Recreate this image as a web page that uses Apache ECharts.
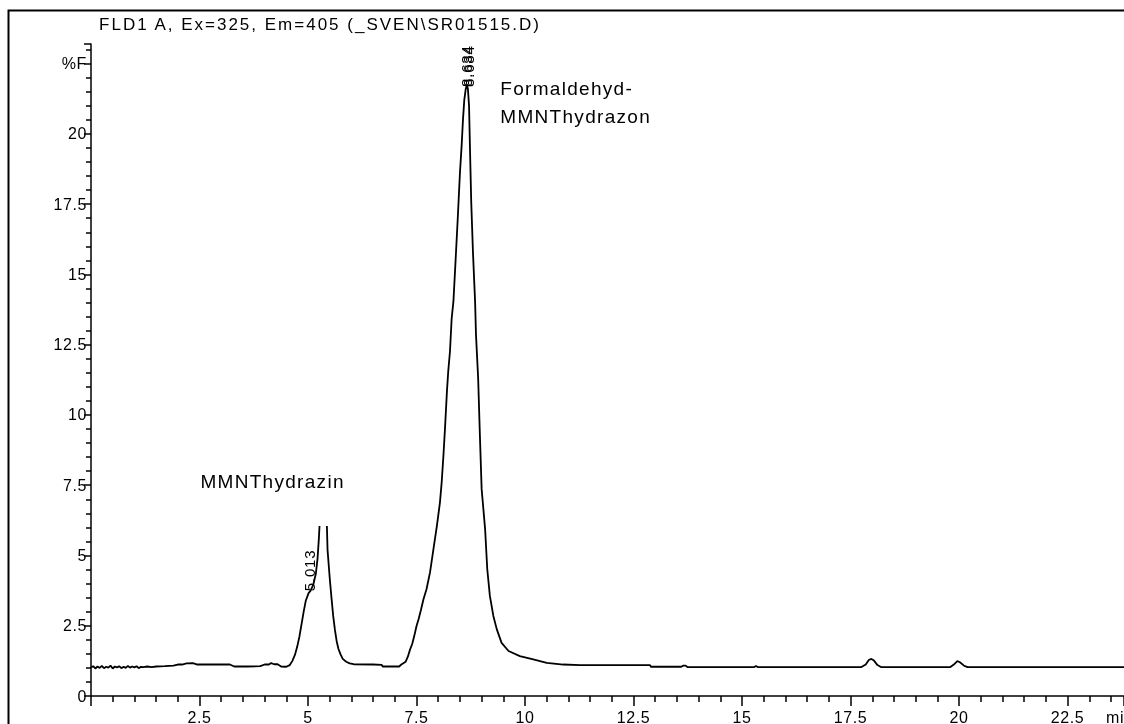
<!DOCTYPE html>
<html>
<head>
<meta charset="utf-8">
<style>
  html, body { margin: 0; padding: 0; background: #fff; }
  #chart { width: 1124px; height: 724px; }
  #chart svg { will-change: transform; }
  /* wide, plotter-like character spacing per text size */
  #chart text[style*="17px"] { letter-spacing: 2px; }
  #chart text[style*="16px"] { letter-spacing: 0.6px; }
  #chart text[style*="19px"] { letter-spacing: 1.3px; }
  #chart text[style*="15px"] { letter-spacing: 0.8px; }
</style>
<script src="https://cdn.jsdelivr.net/npm/echarts@6/dist/echarts.min.js"></script>
</head>
<body>
<div id="chart"></div>
<script>
// FLD signal trace: retention time (min) and response (%F)
const times = [
  0.00, 0.05, 0.10, 0.15, 0.20, 0.25, 0.30, 0.35, 0.40, 0.45, 0.50, 0.55, 0.60, 0.65, 0.70, 0.75,
  0.80, 0.85, 0.90, 0.95, 1.00, 1.05, 1.10, 1.15, 1.20, 1.30, 1.40, 1.50, 1.70, 1.90, 2.00, 2.10,
  2.20, 2.35, 2.45, 2.80, 3.20, 3.30, 3.60, 3.90, 4.00, 4.10, 4.15, 4.22, 4.30, 4.38, 4.50, 4.58,
  4.64, 4.70, 4.75, 4.80, 4.85, 4.90, 4.95, 5.013, 5.06, 5.12, 5.18, 5.22, 5.25, 5.265, 5.35, 5.435,
  5.45, 5.50, 5.54, 5.58, 5.62, 5.66, 5.70, 5.75, 5.80, 5.88, 5.96, 6.05, 6.50, 6.70, 6.72, 7.10,
  7.15, 7.25, 7.30, 7.35, 7.40, 7.45, 7.50, 7.55, 7.60, 7.66, 7.73, 7.81, 7.89, 7.97, 8.04, 8.08,
  8.12, 8.16, 8.20, 8.23, 8.27, 8.31, 8.35, 8.40, 8.45, 8.50, 8.54, 8.57, 8.60, 8.634, 8.66, 8.684,
  8.71, 8.73, 8.76, 8.80, 8.85, 8.87, 8.92, 8.96, 9.00, 9.08, 9.13, 9.19, 9.27, 9.35, 9.46, 9.62,
  9.88, 10.19, 10.50, 10.88, 11.27, 12.00, 12.88, 12.90, 13.60, 13.64, 13.70, 13.74, 15.28, 15.32, 15.36, 17.75,
  17.85, 17.92, 17.98, 18.04, 18.12, 18.20, 19.80, 19.88, 19.96, 20.02, 20.12, 20.20, 23.80
];
const signal = [
  1.02, 1.06, 0.98, 1.05, 1.00, 1.07, 0.99, 1.04, 1.01, 1.08, 0.98, 1.05, 1.02, 1.06, 0.99, 1.04,
  1.00, 1.07, 1.01, 1.05, 1.02, 1.06, 0.99, 1.04, 1.03, 1.05, 1.03, 1.05, 1.06, 1.08, 1.12, 1.12,
  1.16, 1.17, 1.12, 1.12, 1.12, 1.05, 1.05, 1.06, 1.12, 1.12, 1.17, 1.13, 1.13, 1.05, 1.04, 1.10,
  1.25, 1.47, 1.75, 2.10, 2.55, 3.00, 3.40, 3.66, 3.75, 3.95, 4.35, 4.90, 5.60, 6.05, null, 6.05,
  5.20, 4.20, 3.50, 2.85, 2.35, 1.95, 1.68, 1.48, 1.32, 1.22, 1.16, 1.13, 1.12, 1.11, 1.05, 1.05,
  1.12, 1.22, 1.40, 1.65, 1.85, 2.15, 2.49, 2.75, 3.05, 3.44, 3.80, 4.39, 5.23, 6.06, 6.89, 7.61,
  8.56, 9.63, 10.82, 11.54, 12.25, 13.44, 14.04, 15.50, 17.00, 18.60, 19.60, 20.50, 21.20, 21.60, 21.75, 21.60,
  21.00, 19.60, 17.60, 15.80, 14.00, 12.86, 11.30, 9.27, 7.37, 5.94, 4.51, 3.56, 2.85, 2.37, 1.89, 1.60,
  1.42, 1.30, 1.18, 1.12, 1.10, 1.10, 1.10, 1.04, 1.04, 1.08, 1.08, 1.03, 1.03, 1.07, 1.03, 1.03,
  1.12, 1.28, 1.32, 1.26, 1.10, 1.03, 1.03, 1.12, 1.24, 1.20, 1.07, 1.03, 1.03
];

// Integrated peak retention times and the response at each apex
const peakTimes = [5.013, 8.634, 8.684];
const peakHeights = [3.66, 21.60, 21.60];

// Compound names: text lines and anchor (time, response)
const compoundNames = [
  { lines: ['MMNThydrazin'], at: [2.52, 7.62] },
  { lines: ['Formaldehyd-', 'MMNThydrazon'], at: [9.43, 21.62] }
];

const titleText = 'FLD1 A, Ex=325, Em=405 (_SVEN\\SR01515.D)';
const yUnit = '%F';
const xUnit = 'min';

const FONT = '"Liberation Sans", Arial, sans-serif';
const chart = echarts.init(document.getElementById('chart'), null, { renderer: 'svg' });

const trace = times.map((t, i) => [t, signal[i]]);

chart.setOption({
  animation: false,
  backgroundColor: '#ffffff',
  grid: { left: 91, right: 0, top: 44, bottom: 28, containLabel: false, outerBoundsMode: 'none' },
  xAxis: {
    type: 'value', min: 0, max: 23.8, interval: 2.5,
    axisLine: { show: true, onZero: false, lineStyle: { color: '#000', width: 1.5 } },
    axisTick: { show: true, inside: false, length: 10, lineStyle: { color: '#000', width: 1.5 } },
    minorTick: { show: true, splitNumber: 5, length: 6, lineStyle: { color: '#000', width: 1.5 } },
    splitLine: { show: false },
    axisLabel: {
      color: '#000', fontFamily: FONT, fontSize: 16, margin: 13,
      showMinLabel: false, showMaxLabel: false,
      formatter: v => (v === 0 ? '' : String(v))
    }
  },
  yAxis: {
    type: 'value', min: 0, max: 23.2, interval: 2.5,
    axisLine: { show: true, onZero: false, lineStyle: { color: '#000', width: 1.5 } },
    axisTick: { show: true, inside: false, length: 7, lineStyle: { color: '#000', width: 1.5 } },
    minorTick: { show: true, splitNumber: 5, length: 5, lineStyle: { color: '#000', width: 1.5 } },
    splitLine: { show: false },
    axisLabel: {
      color: '#000', fontFamily: FONT, fontSize: 16, margin: 4,
      showMaxLabel: false,
      formatter: v => (v === 22.5 ? yUnit : String(v))
    }
  },
  series: [{
    type: 'line',
    data: trace,
    showSymbol: false,
    connectNulls: false,
    lineStyle: { color: '#000', width: 1.8 },
    clip: true
  }]
});

function buildGraphics() {
  const g = [];
  // page frame
  g.push({
    type: 'rect', left: 6, top: 8, silent: true,
    shape: { x: 0, y: 0, width: 1200, height: 800 },
    style: { fill: 'none', stroke: '#000', lineWidth: 2 }
  });
  // signal description
  g.push({
    type: 'text', x: 320, y: 24, silent: true,
    style: { text: titleText, fontFamily: FONT, fontSize: 17, fill: '#000', textAlign: 'center', textVerticalAlign: 'middle' }
  });
  // time unit at the end of the time axis
  const xEnd = chart.convertToPixel({ gridIndex: 0 }, [0, 0]);
  g.push({
    type: 'text', x: 1106, y: xEnd[1] + 13, silent: true,
    style: { text: xUnit, fontFamily: FONT, fontSize: 16, fill: '#000', textAlign: 'left', textVerticalAlign: 'top' }
  });
  // retention time labels, rotated and starting just above each apex
  peakTimes.forEach((t, i) => {
    const p = chart.convertToPixel({ gridIndex: 0 }, [t, peakHeights[i]]);
    g.push({
      type: 'text', x: p[0] + 1, y: p[1] - 2, rotation: Math.PI / 2, silent: true,
      style: { text: t.toFixed(3), fontFamily: FONT, fontSize: 15, fill: '#000', textAlign: 'left', textVerticalAlign: 'middle' }
    });
  });
  // compound names
  compoundNames.forEach(c => {
    const p = chart.convertToPixel({ gridIndex: 0 }, c.at);
    c.lines.forEach((line, k) => {
      g.push({
        type: 'text', x: p[0], y: p[1] + k * 28, silent: true,
        style: { text: line, fontFamily: FONT, fontSize: 19, fill: '#000', textAlign: 'left', textVerticalAlign: 'middle' }
      });
    });
  });
  return g;
}

chart.setOption({ graphic: buildGraphics() });
</script>
</body>
</html>
